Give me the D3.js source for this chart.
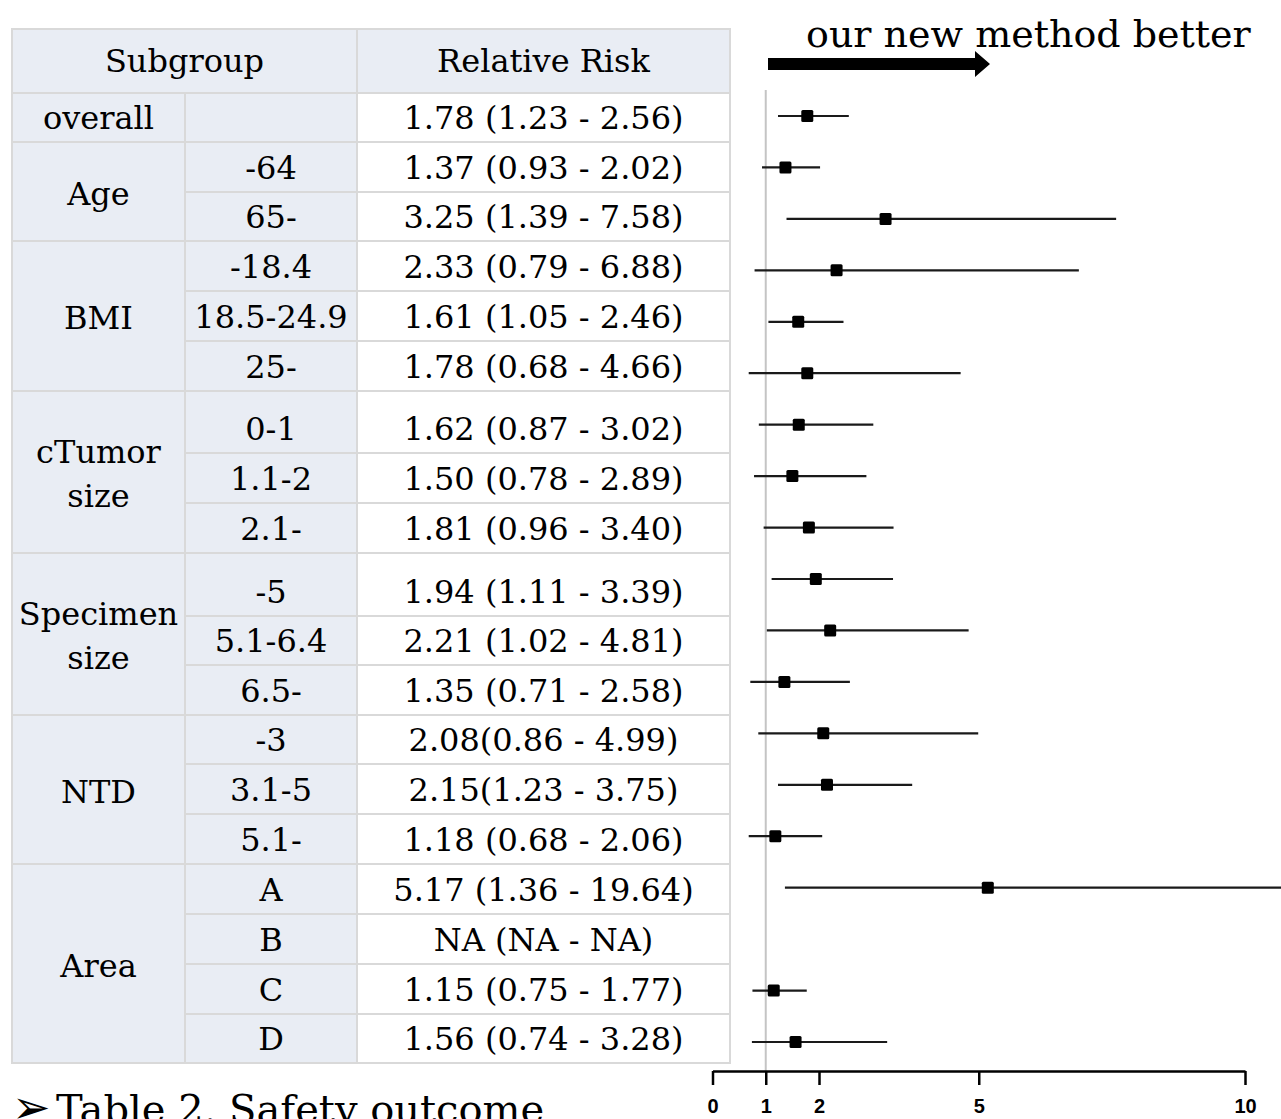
<!DOCTYPE html>
<html>
<head>
<meta charset="utf-8">
<script src="https://cdn.jsdelivr.net/npm/d3@7"></script>
<style>
  body { margin: 0; background: #fff; }
</style>
</head>
<body>
<script>
// --- data ---
const groups = ["overall", "Age", "BMI", "cTumor size", "Specimen size", "NTD", "Area"];
const rowGroup = [0, 1, 1, 2, 2, 2, 3, 3, 3, 4, 4, 4, 5, 5, 5, 6, 6, 6, 6];
const rowLabel = ["", "-64", "65-", "-18.4", "18.5-24.9", "25-", "0-1", "1.1-2", "2.1-",
  "-5", "5.1-6.4", "6.5-", "-3", "3.1-5", "5.1-", "A", "B", "C", "D"];
const rr = [1.78, 1.37, 3.25, 2.33, 1.61, 1.78, 1.62, 1.50, 1.81, 1.94, 2.21, 1.35, 2.08, 2.15, 1.18, 5.17, null, 1.15, 1.56];
const lo = [1.23, 0.93, 1.39, 0.79, 1.05, 0.68, 0.87, 0.78, 0.96, 1.11, 1.02, 0.71, 0.86, 1.23, 0.68, 1.36, null, 0.75, 0.74];
const hi = [2.56, 2.02, 7.58, 6.88, 2.46, 4.66, 3.02, 2.89, 3.40, 3.39, 4.81, 2.58, 4.99, 3.75, 2.06, 19.64, null, 1.77, 3.28];
const rrText = ["1.78 (1.23 - 2.56)", "1.37 (0.93 - 2.02)", "3.25 (1.39 - 7.58)", "2.33 (0.79 - 6.88)",
  "1.61 (1.05 - 2.46)", "1.78 (0.68 - 4.66)", "1.62 (0.87 - 3.02)", "1.50 (0.78 - 2.89)",
  "1.81 (0.96 - 3.40)", "1.94 (1.11 - 3.39)", "2.21 (1.02 - 4.81)", "1.35 (0.71 - 2.58)",
  "2.08(0.86 - 4.99)", "2.15(1.23 - 3.75)", "1.18 (0.68 - 2.06)", "5.17 (1.36 - 19.64)",
  "NA (NA - NA)", "1.15 (0.75 - 1.77)", "1.56 (0.74 - 3.28)"];
const tickValues = [0, 1, 2, 5, 10];

// --- layout ---
const W = 1281, H = 1119;
const colX = [12, 185, 357, 730];
const headTop = 29, headBottom = 93;
const rowHeights = [49, 50, 49, 50, 50, 50, 62, 50, 50, 63, 49, 50, 49, 50, 50, 50, 50, 50, 49];
const rowTops = [];
rowHeights.reduce((y, h) => { rowTops.push(y); return y + h; }, headBottom);

const lineColor = "#d9d9d9";
const blueFill = "#e9edf4";
const serif = "'DejaVu Serif', serif";
const fs = "32px";

const svg = d3.select("body").append("svg")
  .attr("width", W)
  .attr("height", H)
  .style("background", "#fff");

const table = svg.append("g");

// header
table.append("rect")
  .attr("x", colX[0]).attr("y", headTop)
  .attr("width", colX[2] - colX[0]).attr("height", headBottom - headTop)
  .attr("fill", blueFill).attr("stroke", lineColor).attr("stroke-width", 2);
table.append("rect")
  .attr("x", colX[2]).attr("y", headTop)
  .attr("width", colX[3] - colX[2]).attr("height", headBottom - headTop)
  .attr("fill", blueFill).attr("stroke", lineColor).attr("stroke-width", 2);

table.append("text")
  .attr("x", (colX[0] + colX[2]) / 2).attr("y", (headTop + headBottom) / 2)
  .attr("dy", "0.35em").attr("text-anchor", "middle")
  .style("font-family", serif).style("font-size", fs)
  .text("Subgroup");
table.append("text")
  .attr("x", (colX[2] + colX[3]) / 2).attr("y", (headTop + headBottom) / 2)
  .attr("dy", "0.35em").attr("text-anchor", "middle")
  .style("font-family", serif).style("font-size", fs)
  .text("Relative Risk");

// group cells (first column)
groups.forEach((g, gi) => {
  const idx = d3.range(rowGroup.length).filter(i => rowGroup[i] === gi);
  const y0 = rowTops[idx[0]];
  const last = idx[idx.length - 1];
  const y1 = rowTops[last] + rowHeights[last];
  table.append("rect")
    .attr("x", colX[0]).attr("y", y0)
    .attr("width", colX[1] - colX[0]).attr("height", y1 - y0)
    .attr("fill", blueFill).attr("stroke", lineColor).attr("stroke-width", 2);

  const lines = g.split(" ");
  const lh = 44;
  const cy = gi === 0 ? y1 - 24 : (y0 + y1) / 2 + 2;
  lines.forEach((t, li) => {
    table.append("text")
      .attr("x", (colX[0] + colX[1]) / 2)
      .attr("y", cy + (li - (lines.length - 1) / 2) * lh)
      .attr("dy", "0.35em").attr("text-anchor", "middle")
      .style("font-family", serif).style("font-size", fs)
      .text(t);
  });
});

// row cells (second and third column)
rowLabel.forEach((lab, i) => {
  const y0 = rowTops[i], h = rowHeights[i];
  const ty = y0 + h - 24;
  table.append("rect")
    .attr("x", colX[1]).attr("y", y0)
    .attr("width", colX[2] - colX[1]).attr("height", h)
    .attr("fill", blueFill).attr("stroke", lineColor).attr("stroke-width", 2);
  table.append("rect")
    .attr("x", colX[2]).attr("y", y0)
    .attr("width", colX[3] - colX[2]).attr("height", h)
    .attr("fill", "#fff").attr("stroke", lineColor).attr("stroke-width", 2);

  table.append("text")
    .attr("x", (colX[1] + colX[2]) / 2).attr("y", ty)
    .attr("dy", "0.35em").attr("text-anchor", "middle")
    .style("font-family", serif).style("font-size", fs)
    .text(lab);
  table.append("text")
    .attr("x", (colX[2] + colX[3]) / 2).attr("y", ty)
    .attr("dy", "0.35em").attr("text-anchor", "middle")
    .style("font-family", serif).style("font-size", fs)
    .text(rrText[i]);
});

// --- forest plot ---
const x = d3.scaleLinear().domain([0, 10]).range([712.5, 1245]);
const y = d3.scalePoint().domain(d3.range(rr.length)).range([116, 1042]);
const axisY = 1071;

const plot = svg.append("g");

// reference line at RR = 1
plot.append("line")
  .attr("x1", x(1)).attr("x2", x(1))
  .attr("y1", 90).attr("y2", axisY)
  .attr("stroke", "#c4c4c4").attr("stroke-width", 2);

const rows = d3.range(rr.length).filter(i => rr[i] != null);

plot.selectAll("line.ci").data(rows).join("line")
  .attr("class", "ci")
  .attr("x1", i => x(lo[i])).attr("x2", i => x(hi[i]))
  .attr("y1", i => y(i)).attr("y2", i => y(i))
  .attr("stroke", "#1a1a1a").attr("stroke-width", 2.2);

plot.selectAll("rect.pt").data(rows).join("rect")
  .attr("class", "pt")
  .attr("x", i => x(rr[i]) - 6).attr("y", i => y(i) - 6)
  .attr("width", 12).attr("height", 12).attr("rx", 1.5)
  .attr("fill", "#000");

// axis
const axis = plot.append("g")
  .attr("transform", `translate(0,${axisY})`)
  .call(d3.axisBottom(x).tickValues(tickValues).tickSize(14).tickSizeOuter(0).tickPadding(14)
    .tickFormat(d3.format("d")));
axis.attr("font-size", 20).attr("font-family", "'Liberation Sans', Arial, sans-serif");
axis.select(".domain").attr("stroke", "#000").attr("stroke-width", 2.5);
axis.selectAll(".tick line").attr("stroke", "#000").attr("stroke-width", 2.5);
axis.selectAll(".tick text")
  .attr("font-weight", "bold")
  .attr("fill", "#000");

// arrow + label
svg.append("path")
  .attr("d", "M768,58 H975 V51 L990,64 L975,77 V70 H768 Z")
  .attr("fill", "#000");
svg.append("text")
  .attr("x", 806).attr("y", 47)
  .style("font-family", serif).style("font-size", "38px")
  .text("our new method better");

// caption
svg.append("text")
  .attr("x", 12).attr("y", 1123)
  .style("font-family", "'DejaVu Sans', sans-serif").style("font-size", "46px")
  .text("\u27A2");
svg.append("text")
  .attr("x", 56).attr("y", 1123)
  .style("font-family", serif).style("font-size", "40px")
  .text("Table 2. Safety outcome");
</script>
</body>
</html>
